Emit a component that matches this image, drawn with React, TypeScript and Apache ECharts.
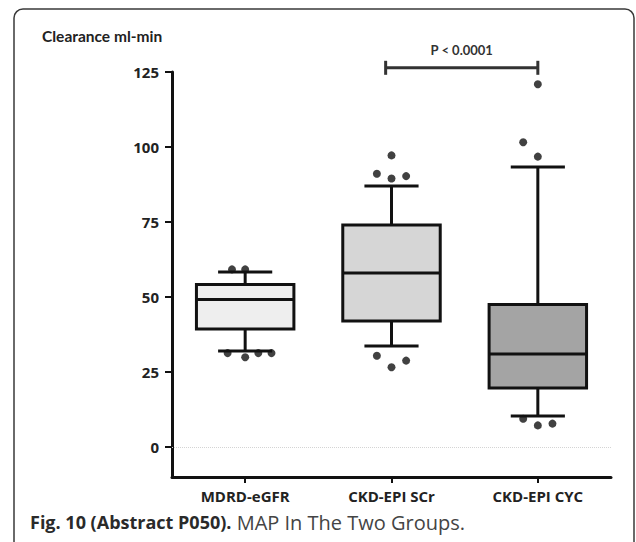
import React, { useEffect, useRef } from "react";
import * as echarts from "echarts";

const categories = ["MDRD-eGFR", "CKD-EPI SCr", "CKD-EPI CYC"];
const whiskerLow = [32, 33.7, 10.3];
const quartile1 = [39.3, 42, 19.7];
const medians = [49.2, 58, 31];
const quartile3 = [54.2, 74, 47.5];
const whiskerHigh = [58.3, 87, 93.3];
const boxFills = ["#eeeeee", "#d6d6d6", "#a4a4a4"];

// outliers: category index + jitter, value
const outlierX = [
  -0.09, 0, -0.12, 0, 0.09, 0.18,
  1, 0.9, 1, 1.1, 0.9, 1, 1.1,
  2, 1.9, 2, 1.9, 2, 2.1,
];
const outlierY = [
  59.2, 59.2, 31.3, 29.9, 31.3, 31.3,
  97.2, 91.1, 89.5, 90.3, 30.4, 26.6, 28.8,
  120.9, 101.6, 96.8, 9.4, 7.2, 7.8,
];

const yTicks = [0, 25, 50, 75, 100, 125];
const sigFrom = 0.96;
const sigTo = 2;
const sigY = 126.4;
const sigLabel = "P < 0.0001";

const titleText = "Clearance ml-min";
const captionBold = "Fig. 10 (Abstract P050).";
const captionRest = " MAP In The Two Groups.";

export default function App() {
  const ref = useRef<HTMLDivElement>(null);
  useEffect(() => {
    if (!ref.current) return;
    const chart = echarts.init(ref.current, null, { renderer: "svg" });
    const boxData = categories.map((_, i) => [
      i,
      whiskerLow[i],
      quartile1[i],
      medians[i],
      quartile3[i],
      whiskerHigh[i],
    ]);
    const outliers = outlierX.map((x, i) => [x, outlierY[i]]);
    const axisFont = "Open Sans";
    chart.setOption({
      animation: false,
      backgroundColor: "#ffffff",
      grid: { left: 172, right: 25, top: 72, bottom: 65, containLabel: false },
      xAxis: [
        {
          type: "category",
          data: categories,
          boundaryGap: true,
          axisLine: { show: true, onZero: false, lineStyle: { color: "#111", width: 3 } },
          axisTick: { show: true, alignWithLabel: true, length: 6, lineStyle: { color: "#111", width: 2 } },
          axisLabel: { color: "#222", fontFamily: axisFont, fontWeight: "bold", fontSize: 15, margin: 11 },
          splitLine: { show: false },
        },
        { type: "value", min: -0.5, max: 2.5, show: false },
      ],
      yAxis: {
        type: "value",
        min: -10,
        max: 125,
        axisLine: { show: true, onZero: false, lineStyle: { color: "#111", width: 3 } },
        axisTick: { show: true, customValues: yTicks, length: 7, lineStyle: { color: "#111", width: 2 } },
        axisLabel: { customValues: yTicks, color: "#222", fontFamily: axisFont, fontWeight: "bold", fontSize: 15, margin: 13 },
        splitLine: { show: false },
      },
      graphic: [
        {
          type: "rect",
          shape: { x: 14, y: 9, width: 620, height: 620, r: 9 },
          style: { fill: "none", stroke: "#3a3a3a", lineWidth: 1.5 },
          silent: true,
        },
        {
          type: "text",
          x: 42,
          y: 36,
          style: {
            text: titleText,
            fill: "#222",
            font: "bold 15.5px Lato",
            verticalAlign: "middle",
          },
        },
        {
          type: "text",
          x: 30,
          y: 522,
          style: {
            text: `{b|${captionBold}}{r|${captionRest}}`,
            verticalAlign: "middle",
            rich: {
              b: { fontFamily: "Open Sans", fontWeight: "bold", fontSize: 18, fill: "#2a2a2a" },
              r: { fontFamily: "Open Sans", fontWeight: "normal", fontSize: 20, fill: "#444" },
            },
          },
        },
      ],
      series: [
        {
          type: "custom",
          xAxisIndex: 1,
          yAxisIndex: 0,
          data: boxData,
          renderItem: (params: any, api: any) => {
            const x = api.value(0);
            const lo = api.coord([x, api.value(1)]);
            const q1 = api.coord([x, api.value(2)]);
            const md = api.coord([x, api.value(3)]);
            const q3 = api.coord([x, api.value(4)]);
            const hi = api.coord([x, api.value(5)]);
            const unit = api.size([1, 0])[0];
            const hb = unit * 0.333;
            const hc = unit * 0.185;
            const cx = lo[0];
            const ls = { stroke: "#111", lineWidth: 3 };
            return {
              type: "group",
              children: [
                { type: "line", shape: { x1: cx, y1: q3[1], x2: cx, y2: hi[1] }, style: ls },
                { type: "line", shape: { x1: cx, y1: q1[1], x2: cx, y2: lo[1] }, style: ls },
                { type: "line", shape: { x1: cx - hc, y1: hi[1], x2: cx + hc, y2: hi[1] }, style: ls },
                { type: "line", shape: { x1: cx - hc, y1: lo[1], x2: cx + hc, y2: lo[1] }, style: ls },
                {
                  type: "rect",
                  shape: { x: cx - hb, y: q3[1], width: 2 * hb, height: q1[1] - q3[1] },
                  style: { fill: boxFills[params.dataIndex], stroke: "#111", lineWidth: 3 },
                },
                { type: "line", shape: { x1: cx - hb, y1: md[1], x2: cx + hb, y2: md[1] }, style: ls },
              ],
            };
          },
        },
        {
          type: "scatter",
          xAxisIndex: 1,
          yAxisIndex: 0,
          data: outliers,
          symbol: "circle",
          symbolSize: 8,
          itemStyle: { color: "#111" },
          markLine: {
            silent: true,
            symbol: "none",
            label: { show: false },
            lineStyle: { type: "dotted", color: "#d4d4d4", width: 1 },
            data: [{ yAxis: 0 }],
          },
        },
        {
          type: "custom",
          xAxisIndex: 1,
          yAxisIndex: 0,
          data: [[sigFrom, sigTo, sigY]],
          renderItem: (_params: any, api: any) => {
            const a = api.coord([api.value(0), api.value(2)]);
            const b = api.coord([api.value(1), api.value(2)]);
            const ls = { stroke: "#333", lineWidth: 3 };
            return {
              type: "group",
              children: [
                { type: "line", shape: { x1: a[0], y1: a[1], x2: b[0], y2: b[1] }, style: ls },
                { type: "line", shape: { x1: a[0], y1: a[1] - 7, x2: a[0], y2: a[1] + 7 }, style: ls },
                { type: "line", shape: { x1: b[0], y1: b[1] - 7, x2: b[0], y2: b[1] + 7 }, style: ls },
                {
                  type: "text",
                  x: (a[0] + b[0]) / 2,
                  y: a[1] - 18,
                  style: {
                    text: sigLabel,
                    fill: "#333",
                    font: "bold 13px Lato",
                    align: "center",
                    verticalAlign: "middle",
                  },
                },
              ],
            };
          },
        },
      ],
    });
    return () => chart.dispose();
  }, []);
  return (
    <div
      ref={ref}
      style={{ position: "fixed", left: 0, top: 0, width: 636, height: 542, background: "#fff" }}
    />
  );
}
